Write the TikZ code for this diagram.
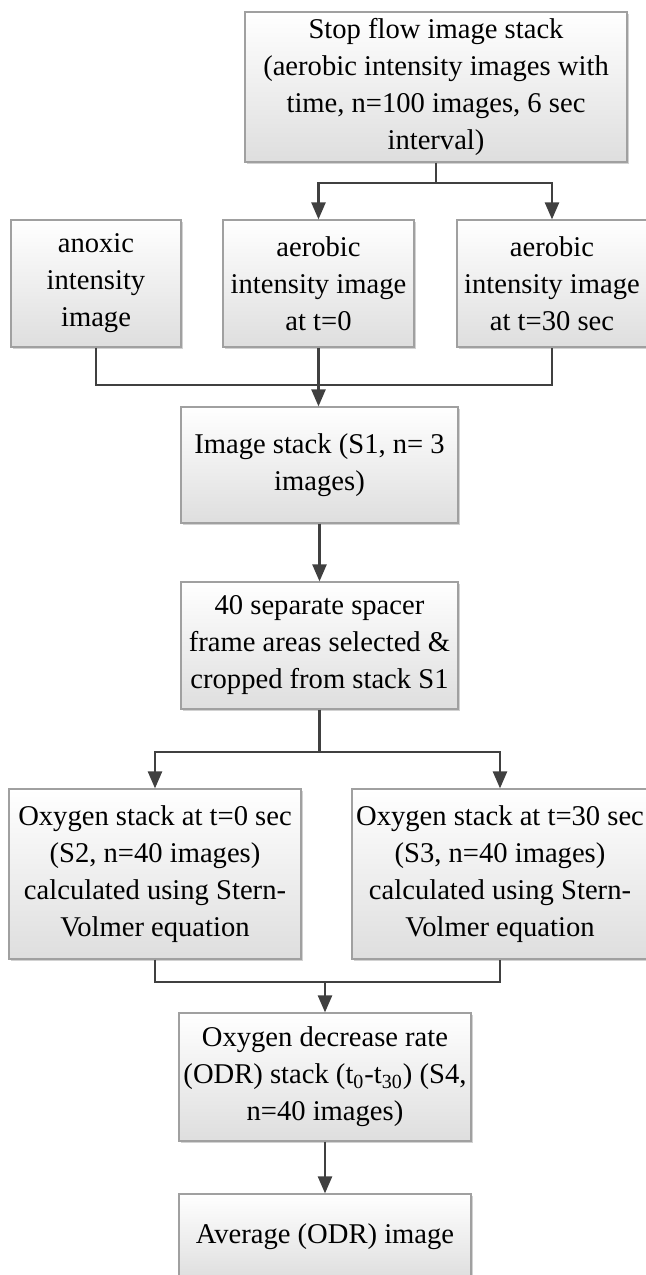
\documentclass[tikz,border=0pt]{standalone}
\usepackage{fontspec}
\setmainfont{Liberation Serif}
\usetikzlibrary{arrows.meta,shadows}
\definecolor{linkgray}{HTML}{404040}
\definecolor{boxedge}{HTML}{A0A0A0}
\definecolor{boxbottom}{HTML}{DEDEDE}
\tikzset{
  box/.style={rectangle,draw=boxedge,line width=0.6pt,top color=white,bottom color=boxbottom,
    align=center,inner sep=2pt,font=\fontsize{14.3}{18.5}\selectfont,
    drop shadow={shadow xshift=1.2pt,shadow yshift=-1.2pt,fill=black!35}},
  link/.style={draw=linkgray,line width=1.2pt},
  arr/.style={link,-{Triangle[length=8.5pt,width=7pt]}}
}
\begin{document}
\begin{tikzpicture}[x=0.5pt,y=-0.5pt]
\useasboundingbox (0,0) rectangle (646,1275);
% top
\node (top) [box,minimum width=191pt,minimum height=75pt] at (436,87)
  {Stop flow image stack\\(aerobic intensity images with\\time, n=100 images, 6 sec\\interval)};
% three input images
\node (anox) [box,minimum width=85pt,minimum height=63.5pt] at (96,283.5)
  {anoxic\\intensity\\image};
\node (aer0) [box,minimum width=95.5pt,minimum height=63.5pt] at (318.5,283.5)
  {aerobic\\intensity image\\at t=0};
\node (aer30) [box,minimum width=95pt,minimum height=63.5pt] at (552,283.5)
  {aerobic\\intensity image\\at t=30 sec};
%
\node (s1) [box,minimum width=138.5pt,minimum height=58pt] at (319.5,465)
  {Image stack (S1, n= 3\\images)};
\node (crop) [box,minimum width=138.5pt,minimum height=63.5pt] at (319.5,645.5)
  {40 separate spacer\\frame areas selected \&\\cropped from stack S1};
% oxygen stacks
\node (s2) [box,minimum width=146pt,minimum height=85pt] at (155,874)
  {Oxygen stack at t=0 sec\\(S2, n=40 images)\\calculated using Stern-\\Volmer equation};
\node (s3) [box,minimum width=148pt,minimum height=85pt] at (500,874)
  {Oxygen stack at t=30 sec\\(S3, n=40 images)\\calculated using Stern-\\Volmer equation};
%
\node (odr) [box,minimum width=146pt,minimum height=64pt] at (325,1077)
  {Oxygen decrease rate\\(ODR) stack (t\textsubscript{0}-t\textsubscript{30}) (S4,\\n=40 images)};
\node (avg) [box,minimum width=146pt,minimum height=43pt] at (325,1237)
  {Average (ODR) image};

% connectors
\coordinate (split1) at (436,183);
\coordinate (merge1) at (318.5,385);
\coordinate (split2) at (319.5,752);
\coordinate (merge2) at (325,982);
\draw[link] (top.south) -- (split1);
\draw[arr] (split1) -| (aer0.north);
\draw[arr] (split1) -| (aer30.north);
\draw[link] (anox.south) |- (merge1) -| (aer30.south);
\draw[arr] (aer0.south) -- (aer0.south |- s1.north);
\draw[arr] (s1.south) -- (s1.south |- crop.north);
\draw[link] (crop.south) -- (split2);
\draw[arr] (split2) -| (s2.north);
\draw[arr] (split2) -| (s3.north);
\draw[link] (s2.south) |- (merge2) -| (s3.south);
\draw[arr] (merge2) -- (odr.north);
\draw[arr] (odr.south) -- (avg.north);
\end{tikzpicture}
\end{document}
